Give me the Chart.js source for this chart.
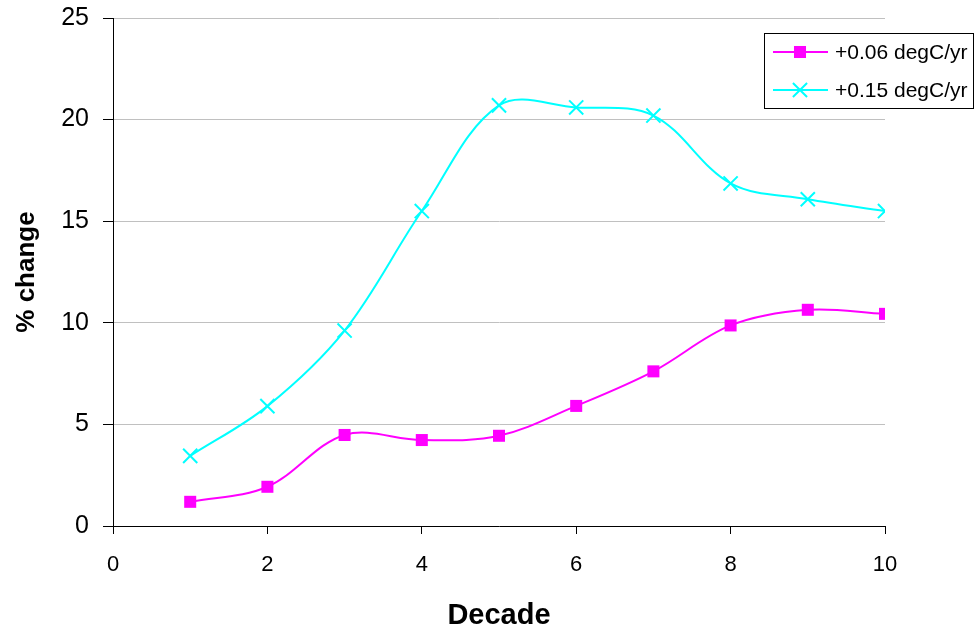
<!DOCTYPE html>
<html>
<head>
<meta charset="utf-8">
<script src="https://cdn.jsdelivr.net/npm/chart.js@4/dist/chart.umd.min.js"></script>
<style>
  html, body { margin: 0; padding: 0; background: #fff; }
  #wrap { width: 978px; height: 636px; }
</style>
</head>
<body>
<div id="wrap"><canvas id="c" width="978" height="636"></canvas></div>
<script>
// Percentage change per decade for two warming rates
const decades = [1, 2, 3, 4, 5, 6, 7, 8, 9, 10];
const rateSlow = [1.19, 1.93, 4.48, 4.23, 4.44, 5.91, 7.61, 9.87, 10.64, 10.44];
const rateFast = [3.45, 5.9, 9.62, 15.5, 20.7, 20.6, 20.2, 16.86, 16.08, 15.5];
const seriesNames = ['+0.06 degC/yr', '+0.15 degC/yr'];
const xTicks = [0, 2, 4, 6, 8, 10];
const yTicks = [0, 5, 10, 15, 20, 25];

const FONT = '"Liberation Sans", Arial, sans-serif';
const MAGENTA = '#ff00ff';
const CYAN = '#00ffff';

function pairs(xs, ys) {
  return xs.map((x, i) => ({ x: x, y: ys[i] }));
}

// Boxed legend drawn inside the plot: a line sample with the marker on it
const boxLegend = {
  id: 'boxLegend',
  afterDraw(chart) {
    const ctx = chart.ctx;
    const bx = 764.5, by = 33.5, bw = 209, bh = 75;
    ctx.save();
    ctx.fillStyle = '#fff';
    ctx.fillRect(bx, by, bw, bh);
    ctx.strokeStyle = '#000';
    ctx.lineWidth = 1;
    ctx.strokeRect(bx, by, bw, bh);
    chart.data.datasets.forEach((ds, i) => {
      const y = 52 + i * 38;
      ctx.strokeStyle = ds.borderColor;
      ctx.lineWidth = 2;
      ctx.beginPath();
      ctx.moveTo(773, y);
      ctx.lineTo(828, y);
      ctx.stroke();
      const mx = 800;
      const s = ds.pointRadius * Math.SQRT1_2;
      if (ds.pointStyle === 'rect') {
        ctx.fillStyle = ds.pointBackgroundColor;
        ctx.fillRect(mx - s, y - s, 2 * s, 2 * s);
      } else {
        ctx.strokeStyle = ds.pointBorderColor;
        ctx.lineWidth = ds.pointBorderWidth;
        ctx.beginPath();
        ctx.moveTo(mx - s, y - s); ctx.lineTo(mx + s, y + s);
        ctx.moveTo(mx - s, y + s); ctx.lineTo(mx + s, y - s);
        ctx.stroke();
      }
      ctx.fillStyle = '#000';
      ctx.font = '21px ' + FONT;
      ctx.textAlign = 'left';
      ctx.textBaseline = 'middle';
      ctx.fillText(ds.label, 835, y + 1);
    });
    ctx.restore();
  }
};

new Chart(document.getElementById('c'), {
  type: 'line',
  data: {
    datasets: [
      {
        label: seriesNames[0],
        data: pairs(decades, rateSlow),
        borderColor: MAGENTA,
        backgroundColor: MAGENTA,
        borderWidth: 2,
        pointStyle: 'rect',
        pointRadius: 8.5,
        pointBackgroundColor: MAGENTA,
        pointBorderColor: MAGENTA,
        pointBorderWidth: 0,
        tension: 0.35,
        fill: false
      },
      {
        label: seriesNames[1],
        data: pairs(decades, rateFast),
        borderColor: CYAN,
        backgroundColor: CYAN,
        borderWidth: 2,
        pointStyle: 'crossRot',
        pointRadius: 10,
        pointBackgroundColor: CYAN,
        pointBorderColor: CYAN,
        pointBorderWidth: 2,
        tension: 0.35,
        fill: false
      }
    ]
  },
  options: {
    responsive: false,
    animation: false,
    devicePixelRatio: 1,
    layout: { padding: { top: 18, right: 93, left: 0, bottom: 0 } },
    plugins: {
      legend: { display: false },
      tooltip: { enabled: false }
    },
    scales: {
      x: {
        type: 'linear',
        min: 0,
        max: 10,
        afterBuildTicks(scale) { scale.ticks = xTicks.map(v => ({ value: v })); },
        afterFit(scale) {
          scale.height = 110;
          scale.paddingLeft = 0;
          scale.paddingRight = 0;
        },
        grid: { drawOnChartArea: false, drawTicks: true, tickLength: 8, tickColor: '#000' },
        border: { display: true, color: '#000', width: 1 },
        ticks: { color: '#000', font: { family: FONT, size: 22 }, padding: 18, maxRotation: 0 },
        title: {
          display: true,
          text: 'Decade',
          color: '#000',
          font: { family: FONT, size: 29, weight: 'bold' },
          padding: { top: 0, bottom: 3 }
        }
      },
      y: {
        type: 'linear',
        min: 0,
        max: 25,
        afterBuildTicks(scale) { scale.ticks = yTicks.map(v => ({ value: v })); },
        afterFit(scale) {
          scale.width = 113;
          scale.paddingTop = 0;
          scale.paddingBottom = 0;
        },
        grid: { color: '#c0c0c0', lineWidth: 1, drawTicks: true, tickLength: 10, tickColor: '#000' },
        border: { display: true, color: '#000', width: 1 },
        ticks: { color: '#000', font: { family: FONT, size: 25 }, padding: 14 },
        title: {
          display: true,
          text: '% change',
          color: '#000',
          font: { family: FONT, size: 26, weight: 'bold' },
          padding: { top: 11, bottom: 0 }
        }
      }
    }
  },
  plugins: [boxLegend]
});
</script>
</body>
</html>
